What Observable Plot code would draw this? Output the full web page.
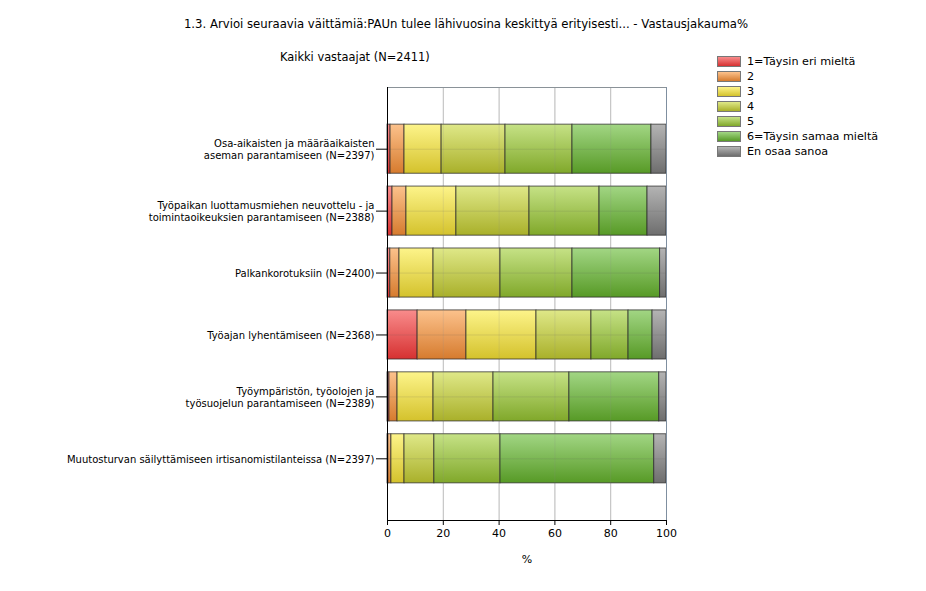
<!DOCTYPE html>
<html>
<head>
<meta charset="utf-8">
<script src="https://cdn.jsdelivr.net/npm/d3@7"></script>
<script src="https://cdn.jsdelivr.net/npm/@observablehq/plot@0.6"></script>
<style>
  body { margin: 0; background: #fff; font-family: "DejaVu Sans", sans-serif; }
  #wrap { position: relative; width: 926px; height: 591px; overflow: hidden; }
  #title { position: absolute; left: 0; width: 932px; top: 17px; text-align: center; font-size: 11.7px; color: #000; }
  #subtitle { position: absolute; left: 280px; top: 50px; font-size: 11.4px; color: #000; }
  #legend { position: absolute; left: 717px; top: 54px; font-size: 11.2px; color: #000; }
  .row { height: 15px; display: flex; align-items: center; }
  .sw { width: 22px; height: 9px; border: 1px solid #777; margin-right: 6px; }
  #chart { position: absolute; left: 0; top: 0; }
</style>
</head>
<body>
<div id="wrap">
  <svg width="0" height="0" style="position:absolute">
    <defs id="grads"></defs>
  </svg>
  <div id="title"></div>
  <div id="subtitle"></div>
  <div id="legend"></div>
  <div id="chart"></div>
</div>
<script>
const titleText = "1.3. Arvioi seuraavia väittämiä:PAUn tulee lähivuosina keskittyä erityisesti... - Vastausjakauma%";
const subtitleText = "Kaikki vastaajat (N=2411)";
const categories = [
  "Osa-aikaisten ja määräaikaisten\naseman parantamiseen (N=2397)",
  "Työpaikan luottamusmiehen neuvottelu - ja\ntoimintaoikeuksien parantamiseen (N=2388)",
  "Palkankorotuksiin (N=2400)",
  "Työajan lyhentämiseen (N=2368)",
  "Työympäristön, työolojen ja\ntyösuojelun parantamiseen (N=2389)",
  "Muutosturvan säilyttämiseen irtisanomistilanteissa (N=2397)"
];
const levels = ["1=Täysin eri mieltä", "2", "3", "4", "5", "6=Täysin samaa mieltä", "En osaa sanoa"];
const level1 = [1.1, 1.8, 1.0, 10.8, 0.7, 0.3];
const level2 = [5.0, 5.0, 3.3, 17.5, 2.9, 1.1];
const level3 = [13.3, 17.9, 12.2, 25.1, 12.9, 4.7];
const level4 = [22.9, 26.2, 24.0, 19.7, 21.5, 10.7];
const level5 = [24.0, 25.1, 25.8, 13.3, 27.2, 23.7];
const level6 = [28.3, 17.2, 31.4, 8.6, 32.2, 55.1];
const levelEOS = [5.4, 6.8, 2.3, 5.0, 2.6, 4.4];
const xTicks = [0, 20, 40, 60, 80, 100];
const gradTop = ["#f98c8c", "#fcc28c", "#fdf48a", "#dfe888", "#c6e286", "#a2d684", "#b4b4b4"];
const gradBottom = ["#d63131", "#d67b2e", "#d4c22c", "#a9b02a", "#80a82a", "#579a26", "#6e6e6e"];

const series = [level1, level2, level3, level4, level5, level6, levelEOS];
const data = [];
categories.forEach((c, ci) => {
  levels.forEach((l, li) => data.push({category: c, level: l, value: series[li][ci]}));
});

// gradients
const defs = document.getElementById("grads");
levels.forEach((l, i) => {
  defs.insertAdjacentHTML("beforeend",
    `<linearGradient id="g${i}" x1="0" y1="0" x2="0" y2="1">
       <stop offset="0" stop-color="${gradTop[i]}"/>
       <stop offset="1" stop-color="${gradBottom[i]}"/>
     </linearGradient>`);
});

document.getElementById("title").textContent = titleText;
document.getElementById("subtitle").textContent = subtitleText;
const legend = document.getElementById("legend");
levels.forEach((l, i) => {
  const row = document.createElement("div");
  row.className = "row";
  row.innerHTML = `<div class="sw" style="background:linear-gradient(${gradTop[i]}, ${gradBottom[i]})"></div><span>${l}</span>`;
  legend.appendChild(row);
});

const chart = Plot.plot({
  width: 926,
  height: 591,
  marginTop: 87,
  marginBottom: 71,
  marginLeft: 387,
  marginRight: 260,
  style: {fontFamily: "DejaVu Sans, sans-serif", fontSize: "10px", color: "#000", background: "transparent"},
  x: {domain: [0, 100], ticks: xTicks, label: null},
  y: {domain: categories, paddingInner: 0.207, paddingOuter: 0.6, label: null, round: false},
  color: {type: "ordinal", domain: levels, range: levels.map((_, i) => `url(#g${i})`)},
  marks: [
    Plot.gridX(xTicks, {stroke: "#c8c8c8", strokeOpacity: 1}),
    Plot.barX(data, {x: "value", y: "category", fill: "level", stroke: "#2a2a2a", strokeOpacity: 0.75, strokeWidth: 1, insetLeft: 0, insetRight: 0}),
    Plot.gridX(xTicks, {stroke: "#888", strokeOpacity: 0.18}),
    Plot.gridY(categories, {stroke: "#555", strokeOpacity: 0.15}),
    Plot.frame({anchor: "top", stroke: "#8a9298"}),
    Plot.frame({anchor: "right", stroke: "#7f8fa0"}),
    Plot.frame({anchor: "left", stroke: "#000"}),
    Plot.frame({anchor: "bottom", stroke: "#000"}),
    Plot.axisX(xTicks, {tickSize: 5, tickPadding: 4, fontSize: 11, label: null}),
    Plot.axisY({tickSize: 11, tickPadding: 2, lineHeight: 1.25, fontSize: 10, label: null}),
    Plot.text(["%"], {frameAnchor: "bottom", dy: 42, fontSize: 11})
  ]
});
document.getElementById("chart").appendChild(chart);
</script>
</body>
</html>
